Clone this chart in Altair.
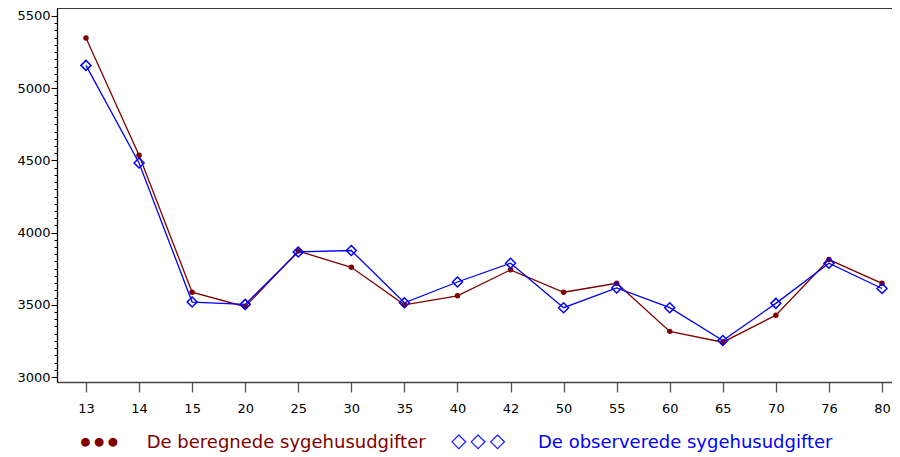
import altair as alt
import pandas as pd

# ---- data ----
ages = ["13", "14", "15", "20", "25", "30", "35", "40", "42", "50", "55", "60", "65", "70", "76", "80"]
beregnede = [5347, 4535, 3587, 3487, 3872, 3760, 3500, 3562, 3742, 3587, 3649, 3316, 3241, 3428, 3813, 3649]
observerede = [5158, 4482, 3519, 3503, 3866, 3876, 3514, 3658, 3788, 3480, 3617, 3480, 3253, 3510, 3788, 3613]
series_labels = ["De beregnede sygehusudgifter", "De observerede sygehusudgifter"]
y_tick_values = list(range(3000, 5501, 50))

RED = "#800000"
BLUE = "#0000ff"
W, H = 835, 374
FONT = "DejaVu Sans"

df_red = pd.DataFrame({"age": ages, "value": beregnede, "series": series_labels[0]})
df_blue = pd.DataFrame({"age": ages, "value": observerede, "series": series_labels[1]})

x_enc = alt.X(
    "age:N",
    sort=ages,
    scale=alt.Scale(type="point", padding=0.367, align=0.744),
    axis=alt.Axis(
        title=None, labelAngle=0, labelFont=FONT, labelFontSize=13, labelColor="black",
        tickSize=10, tickColor="#555555", tickWidth=1.3, domainColor="#444444",
        domainWidth=1.3, labelPadding=10, grid=False,
    ),
)
y_enc = alt.Y(
    "value:Q",
    scale=alt.Scale(domain=[2965.4, 5555.4], nice=False, zero=False),
    axis=alt.Axis(
        title=None, values=y_tick_values,
        labelExpr="datum.value % 500 === 0 ? datum.label : ''",
        labelFont=FONT, labelFontSize=13, labelColor="black",
        tickSize={"condition": {"test": "datum.value % 500 === 0", "value": 6}, "value": 3},
        tickColor="black", tickWidth=1, domainColor="black", domainWidth=1.3,
        labelPadding=1, grid=False, format="d",
    ),
)

red_line = alt.Chart(df_red).mark_line(color=RED, strokeWidth=1.3).encode(x=x_enc, y=y_enc)
red_pts = alt.Chart(df_red).mark_point(shape="circle", filled=True, color=RED, size=30, opacity=1).encode(x=x_enc, y=y_enc)
blue_line = alt.Chart(df_blue).mark_line(color=BLUE, strokeWidth=1.3).encode(x=x_enc, y=y_enc)
blue_pts = alt.Chart(df_blue).mark_point(shape="diamond", filled=False, color=BLUE, size=100, strokeWidth=1.5, opacity=1).encode(x=x_enc, y=y_enc)

top_border = alt.Chart(pd.DataFrame({"a": [0]})).mark_rule(color="black", strokeWidth=1.3).encode(
    x=alt.value(0), x2=alt.value(W), y=alt.value(0)
)

leg_red_sym = alt.Chart(pd.DataFrame({"a": [0]})).mark_text(
    text="\u25cf \u25cf \u25cf", font=FONT, fontSize=11.5, color=RED, align="center", baseline="middle"
).encode(x=alt.value(42), y=alt.value(433.5))
leg_blue_sym = alt.Chart(pd.DataFrame({"a": [0]})).mark_text(
    text="\u25c7\u2009\u25c7\u2009\u25c7", font=FONT, fontSize=20, color=BLUE, align="center", baseline="middle"
).encode(x=alt.value(421), y=alt.value(433))
leg_red_txt = alt.Chart(pd.DataFrame({"t": [series_labels[0]]})).mark_text(
    font=FONT, fontSize=18, color=RED, align="left", baseline="alphabetic"
).encode(text="t:N", x=alt.value(89.7), y=alt.value(440))
leg_blue_txt = alt.Chart(pd.DataFrame({"t": [series_labels[1]]})).mark_text(
    font=FONT, fontSize=18, color=BLUE, align="left", baseline="alphabetic"
).encode(text="t:N", x=alt.value(481), y=alt.value(440))

chart = alt.layer(
    red_line, red_pts, blue_line, blue_pts, top_border,
    leg_red_sym, leg_blue_sym, leg_red_txt, leg_blue_txt,
).properties(
    width=W, height=H,
    autosize=alt.AutoSizeParams(type="none"),
    padding={"left": 49, "top": 0, "right": 0, "bottom": 73},
).configure_view(stroke=None).configure(background="white")

chart.save("out.html", embed_options={"renderer": "svg", "actions": False})
